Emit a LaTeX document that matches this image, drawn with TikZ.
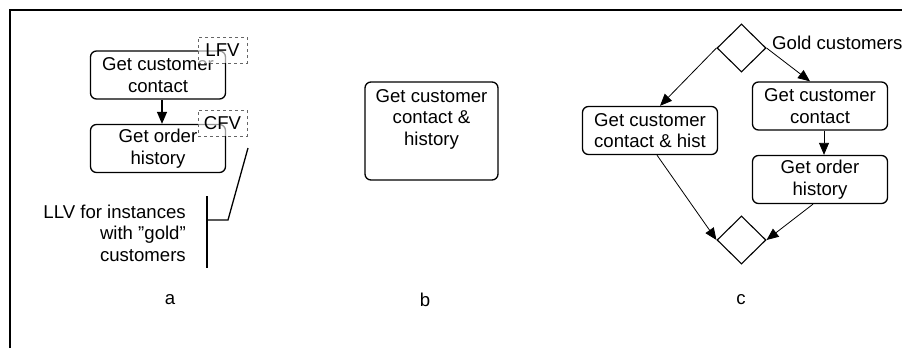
\documentclass[tikz,border=0pt]{standalone}
\usepackage{fontspec}
\setmainfont{Liberation Sans}
\usetikzlibrary{shapes.geometric,arrows.meta}
\begin{document}
\begin{tikzpicture}[x=1pt,y=-1pt,
    font=\fontsize{18.6}{21.5}\selectfont,
    task/.style={draw,rounded corners=6pt,line width=1.3pt,minimum width=135pt,minimum height=48pt,align=center,inner sep=0pt},
    tag/.style={draw=black!60,dashed,line width=0.8pt,fill=white,fill opacity=0.6,text opacity=1,minimum width=49pt,minimum height=26pt,inner sep=0pt},
    gate/.style={draw,diamond,line width=1.1pt,minimum width=49pt,minimum height=48pt,inner sep=0pt},
    flow/.style={-{Triangle[length=12pt,width=10pt]},line width=0.8pt},
    fatflow/.style={-{Triangle[length=12pt,width=10pt]},line width=1.3pt}]
    \useasboundingbox (0,0) rectangle (902,348);
    \draw[line width=1.8pt] (10,348) -- (10,10) -- (902,10);
    % a
    \node[task] (a1) at (158,75) {Get customer\\contact};
    \node[task] (a2) at (158,148.5) {Get order\\history};
    \node[tag] (lfv) at (222.5,50) {LFV};
    \node[tag] (cfv) at (222.5,123) {CFV};
    \draw[fatflow] ([xshift=4pt]a1.south) -- ([xshift=4pt]a2.north);
    \node[align=right,anchor=east,inner sep=0pt] (llv) at (186,233) {LLV for instances\\with ''gold''\\customers};
    \coordinate (bt) at (207,196);
    \coordinate (bb) at (207,268);
    \coordinate (bm) at (207,220);
    \coordinate (bk) at (228,220);
    \coordinate (be) at (248,148);
    \draw[line width=1.3pt] (bt) -- (bb);
    \draw[line width=1.3pt] (bm) -- (bk) -- (be);
    \node (la) at (170,300) {a};
    % b
    \node[task,minimum width=133pt,minimum height=98pt] (b1) at (431.5,131) {Get customer\\contact \&\\history\\\strut};
    \node (lb) at (425,300) {b};
    % c
    \node[gate] (g1) at (741.5,48) {};
    \node[gate] (g2) at (741.5,240) {};
    \node[anchor=west,inner sep=0pt] (gold) at (772,43) {Gold customers};
    \node[task] (c1) at (650,130.5) {Get customer\\contact \& hist};
    \node[task] (c2) at (820,106) {Get customer\\contact};
    \node[task] (c3) at (820,179.5) {Get order\\history};
    \draw[flow] (g1.west) -- ([xshift=10pt]c1.north);
    \draw[flow] (g1.east) -- ([xshift=-10pt]c2.north);
    \draw[flow] ([xshift=4pt]c2.south) -- ([xshift=4pt]c3.north);
    \draw[flow] ([xshift=7pt]c1.south) -- (g2.west);
    \draw[flow] ([xshift=-7pt]c3.south) -- (g2.east);
    \node (lc) at (741,300) {c};
\end{tikzpicture}
\end{document}
